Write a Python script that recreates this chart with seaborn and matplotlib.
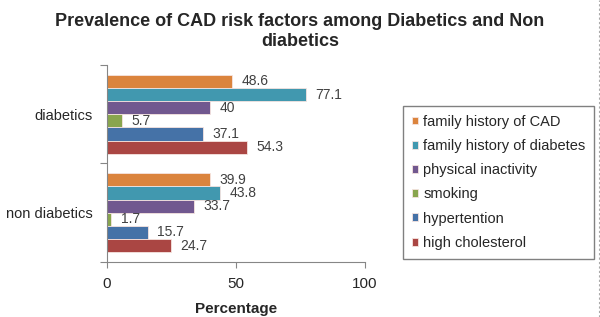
import matplotlib
matplotlib.use('Agg')
import matplotlib.pyplot as plt
import matplotlib.lines as mlines
import pandas as pd
import seaborn as sns

groups = ['diabetics', 'non diabetics']
factors = ['family history of CAD', 'family history of diabetes', 'physical inactivity',
           'smoking', 'hypertention', 'high cholesterol']
diabetics = [48.6, 77.1, 40, 5.7, 37.1, 54.3]
non_diabetics = [39.9, 43.8, 33.7, 1.7, 15.7, 24.7]
colors = ['#DB843D', '#4198AF', '#71588F', '#89A54E', '#4572A7', '#AA4643']

rows = []
for g, vals in zip(groups, [diabetics, non_diabetics]):
    for f, v in zip(factors, vals):
        rows.append({'group': g, 'factor': f, 'pct': v})
df = pd.DataFrame(rows)

sns.set_style('white')
plt.rcParams['font.family'] = ['Liberation Sans', 'DejaVu Sans']

fig = plt.figure(figsize=(6, 3.17), dpi=100)
ax = fig.add_axes([107 / 600, 1 - 262 / 317, 258 / 600, 197 / 317])

sns.barplot(data=df, x='pct', y='group', hue='factor', order=groups, hue_order=factors,
            palette=colors, saturation=1, orient='h', width=0.8,
            edgecolor='#f6e4e0', linewidth=0.6, legend=True, ax=ax)

for cont in ax.containers:
    ax.bar_label(cont, labels=[f'{v:g}' for v in cont.datavalues], padding=7,
                 fontsize=10, color='#404040')

ax.set_xlim(0, 100)
ax.set_ylim(1.5, -0.5)
ax.set_xticks([0, 50, 100])
ax.tick_params(axis='x', labelsize=11, length=4, width=0.8, color='#868686', pad=7,
               direction='out', bottom=True)
ax.tick_params(axis='y', which='major', labelsize=10.5, length=0, pad=10)
ax.set_yticks([-0.5, 0.5, 1.5], minor=True)
ax.tick_params(axis='y', which='minor', length=5, width=0.8, color='#868686', left=True,
               direction='out')
for s in ['top', 'right']:
    ax.spines[s].set_visible(False)
for s in ['left', 'bottom']:
    ax.spines[s].set_color('#868686')
    ax.spines[s].set_linewidth(0.8)
ax.set_ylabel('')
ax.set_xlabel('Percentage', fontsize=11, fontweight='bold', labelpad=8)

fig.suptitle('Prevalence of CAD risk factors among Diabetics and Non\ndiabetics',
             fontsize=13, fontweight='bold', y=0.96, linespacing=1.25)

handles, labels = ax.get_legend_handles_labels()
ax.get_legend().remove()
fig.legend(handles, labels, loc='upper left', bbox_to_anchor=(403 / 600, 1 - 106 / 317),
           frameon=True, fancybox=False, edgecolor='#808080', framealpha=1,
           fontsize=10.5, handlelength=0.45, handleheight=0.45, handletextpad=0.35,
           labelspacing=0.7, borderpad=0.6, borderaxespad=0)

fig.add_artist(mlines.Line2D([599 / 600, 599 / 600], [0, 1], transform=fig.transFigure,
                             color='#aaaaaa', linestyle=(0, (2, 2)), linewidth=0.8))

fig.savefig('out.png', dpi=100)
